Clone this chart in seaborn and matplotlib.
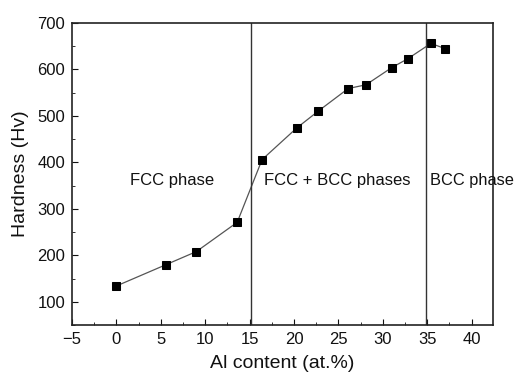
import matplotlib
matplotlib.use("Agg")
import matplotlib.pyplot as plt
import seaborn as sns
import pandas as pd
from matplotlib.ticker import MultipleLocator

al_content = [0, 5.6, 9.0, 13.6, 16.4, 20.3, 22.7, 26.1, 28.1, 31.0, 32.8, 35.4, 37.0]
hardness = [134, 180, 208, 271, 406, 474, 510, 559, 567, 604, 623, 656, 645]
phase_boundaries = [15.2, 34.9]
phase_labels = ["FCC phase", "FCC + BCC phases", "BCC phase"]
phase_label_x = [1.5, 16.6, 35.3]
phase_label_y = [362, 362, 362]

sns.set_style("ticks")
plt.rcParams['font.family'] = ['Liberation Sans', 'DejaVu Sans']

df = pd.DataFrame({"x": al_content, "y": hardness})
fig = plt.figure(figsize=(5.16, 3.74), dpi=100)
ax = fig.add_axes([72/516, 1-325/374, (493-72)/516, (325-23)/374])

sns.lineplot(data=df, x="x", y="y", ax=ax, color="#555555", linewidth=0.9,
             marker="s", markersize=5.5, markerfacecolor="black",
             markeredgecolor="black")

for b in phase_boundaries:
    ax.axvline(b, color="#333333", linewidth=1.0)

for t, x, y in zip(phase_labels, phase_label_x, phase_label_y):
    ax.text(x, y, t, fontsize=12 if t != "BCC phase" else 11.8,
            va="center", ha="left", clip_on=False, color="#111111")

ax.set_xlim(-5, 42.4)
ax.set_ylim(50, 700)
ax.xaxis.set_major_locator(MultipleLocator(5))
ax.xaxis.set_minor_locator(MultipleLocator(2.5))
ax.yaxis.set_major_locator(MultipleLocator(100))
ax.yaxis.set_minor_locator(MultipleLocator(50))
ax.tick_params(which="both", direction="in", labelsize=12, colors="#111111")
ax.tick_params(which="major", length=4, pad=5)
ax.tick_params(which="minor", length=2.5)
for s in ax.spines.values():
    s.set_linewidth(1.2)
    s.set_color("#222222")
ax.set_xlabel("Al content (at.%)", fontsize=14, labelpad=6, color="#111111")
ax.set_ylabel("Hardness (Hv)", fontsize=14, labelpad=6, color="#111111")

fig.savefig("out.png", dpi=100)
